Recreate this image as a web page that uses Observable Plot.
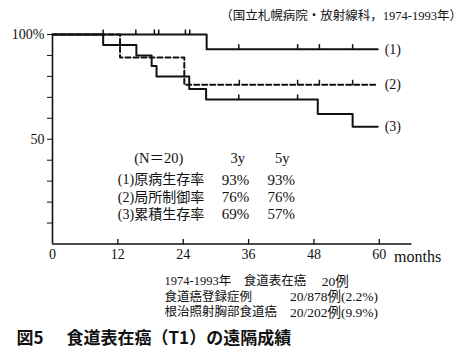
<!DOCTYPE html>
<html><head><meta charset="utf-8">
<script src="https://cdn.jsdelivr.net/npm/d3@7"></script>
<script src="https://cdn.jsdelivr.net/npm/@observablehq/plot@0.6"></script>
<style>
body{margin:0;background:#fff;}
#wrap{position:relative;width:474px;height:353px;overflow:hidden;background:#fff;color:#111;font-family:"Liberation Serif","Noto Sans CJK JP",serif;}
.t{position:absolute;white-space:pre;line-height:1;}
</style></head><body><div id="wrap"></div>
<script>
// ---- data ----
const xTickLabels = [0, 12, 24, 36, 48, 60];
const yTickValues = [10, 20, 30, 40, 50, 60, 70, 80, 90, 100];
const curveNames = ["(1)", "(2)", "(3)"];
// (1) 原病生存率
const c1Times = [0, 28.3, 59.7];
const c1Values = [100, 93, 93];
const c1Censored = [9.3, 15.3, 18.7, 19.5, 24.4, 25.2, 34.2, 45.0, 49.0, 55.1];
// (2) 局所制御率
const c2Times = [0, 12.4, 24.2, 59.7];
const c2Values = [100, 89, 76, 76];
const c2Censored = [34.3, 45.0, 49.0, 55.1];
// (3) 累積生存率
const c3Times = [0, 9.3, 15.4, 18.2, 19.1, 25.1, 28.2, 48.7, 55.1, 59.7];
const c3Values = [100, 95, 90, 85, 80, 74, 69, 62, 56, 56];
const c3Censored = [34.2, 45.0];
// table
const tableHeader = ["(N＝20)", "3y", "5y"];
const rowLabels = ["(1)原病生存率", "(2)局所制御率", "(3)累積生存率"];
const rate3y = ["93%", "76%", "69%"];
const rate5y = ["93%", "76%", "57%"];
// texts
const sourceNote = "（国立札幌病院・放射線科，1974-1993年）";
const noteLabels = ["1974-1993年　食道表在癌", "食道癌登録症例", "根治照射胸部食道癌"];
const noteValues = ["20例", "20/878例(2.2%)", "20/202例(9.9%)"];
const figNo = "図5";
const figTitle = "食道表在癌（T1）の遠隔成績";
const xUnit = "months";

// ---- build ----
function curve(times, values) { return times.map((t, i) => ({t, v: values[i]})); }
function stepAt(times, values, t) { let v = values[0]; times.forEach((tt, i) => { if (tt <= t) v = values[i]; }); return v; }
function censor(ts, times, values) { return ts.map(t => ({t, v: stepAt(times, values, t)})); }

const k1 = curve(c1Times, c1Values), k2 = curve(c2Times, c2Values), k3 = curve(c3Times, c3Values);
const cens = [
  ...censor(c1Censored, c1Times, c1Values),
  ...censor(c2Censored, c2Times, c2Values),
  ...censor(c3Censored, c3Times, c3Values)
];
const ends = [k1, k2, k3].map((k, i) => ({t: k[k.length - 1].t, v: k[k.length - 1].v, label: curveNames[i]}));
const xTickMarks = xTickLabels.slice(1).map(t => ({t, v: 0}));

const rowY = [30.6, 22.3, 14.0];
const tableHead = [
  {x: 19.5, y: 40.7, s: tableHeader[0]},
  {x: 34.0, y: 40.7, s: tableHeader[1]},
  {x: 42.2, y: 40.7, s: tableHeader[2]}
];
const tableRates = [
  ...rate3y.map((s, i) => ({x: 33.6, y: rowY[i], s})),
  ...rate5y.map((s, i) => ({x: 42.0, y: rowY[i], s}))
];
const tableStart = rowLabels.map((s, i) => ({x: 12.0, y: rowY[i], s}));

// short vertical tick pointing up from the anchor point
const upTick = {draw(ctx) { ctx.moveTo(0, 0.5); ctx.lineTo(0, -5); }};

const FONT = '"Liberation Serif","Noto Sans CJK JP",serif';
const chart = Plot.plot({
  width: 474, height: 353,
  marginTop: 34, marginBottom: 109.5, marginLeft: 52, marginRight: 62.5,
  style: {fontFamily: FONT, fontSize: "14px", background: "white", color: "#111"},
  x: {domain: [0, 66], ticks: xTickLabels, tickSize: 0, tickPadding: 5, label: null, tickFormat: d => String(d)},
  y: {domain: [0, 100], ticks: yTickValues, tickSize: 5, tickPadding: 3, label: null,
      tickFormat: d => d === 100 ? "100%" : d === 50 ? "50" : ""},
  marks: [
    Plot.ruleX([0], {y1: () => 0, y2: () => 100, strokeWidth: 1.6, stroke: "#111"}),
    Plot.ruleY([0], {x1: () => 0, x2: () => 66, strokeWidth: 1.6, stroke: "#111"}),
    Plot.dot(xTickMarks, {x: "t", y: "v", symbol: upTick, r: 3, stroke: "#111", strokeWidth: 1.3, fill: "none"}),
    Plot.line(k1, {x: "t", y: "v", curve: "step-after", stroke: "#111", strokeWidth: 2}),
    Plot.line(k3, {x: "t", y: "v", curve: "step-after", stroke: "#111", strokeWidth: 2}),
    Plot.line(k2, {x: "t", y: "v", curve: "step-after", stroke: "#111", strokeWidth: 2, strokeDasharray: "5,3"}),
    Plot.dot(cens, {x: "t", y: "v", symbol: upTick, r: 3, stroke: "#111", strokeWidth: 1.5, fill: "none"}),
    Plot.text(ends, {x: "t", y: "v", text: "label", textAnchor: "start", dx: 7, fontSize: 14, fill: "#111"}),
    Plot.text(tableHead, {x: "x", y: "y", text: "s", textAnchor: "middle", fontSize: 14.5, fill: "#111"}),
    Plot.text(tableRates, {x: "x", y: "y", text: "s", textAnchor: "middle", fontSize: 15, fill: "#111"}),
    Plot.text(tableStart, {x: "x", y: "y", text: "s", textAnchor: "start", fontSize: 14, fill: "#111"}),
    Plot.text([xUnit], {x: () => 66, y: () => 0, text: d => d, textAnchor: "start", dy: 13, dx: -18, fontSize: 16, fill: "#111"})
  ]
});
const wrap = document.getElementById("wrap");
wrap.appendChild(chart);

function addText(s, left, cy, size, opts = {}) {
  const d = document.createElement("div");
  d.className = "t";
  d.textContent = s;
  d.style.fontSize = size + "px";
  d.style.top = (cy - size / 2) + "px";
  if (opts.right != null) d.style.right = opts.right + "px"; else d.style.left = left + "px";
  if (opts.bold) d.style.fontWeight = "bold";
  if (opts.font) d.style.fontFamily = opts.font;
  wrap.appendChild(d);
}
addText(sourceNote, 0, 16.5, 12.5, {right: 12});
const noteY = [281.5, 297, 312.5];
const noteValX = [321.7, 290, 290];
noteLabels.forEach((s, i) => addText(s, 164.5, noteY[i], 12.5));
noteValues.forEach((s, i) => addText(s, noteValX[i], noteY[i], 13.5));
addText(figNo, 16.5, 336, 17, {bold: true, font: '"Noto Sans CJK JP",sans-serif'});
addText(figTitle, 66.5, 336, 17, {bold: true, font: '"Noto Sans CJK JP",sans-serif'});
</script></body></html>
